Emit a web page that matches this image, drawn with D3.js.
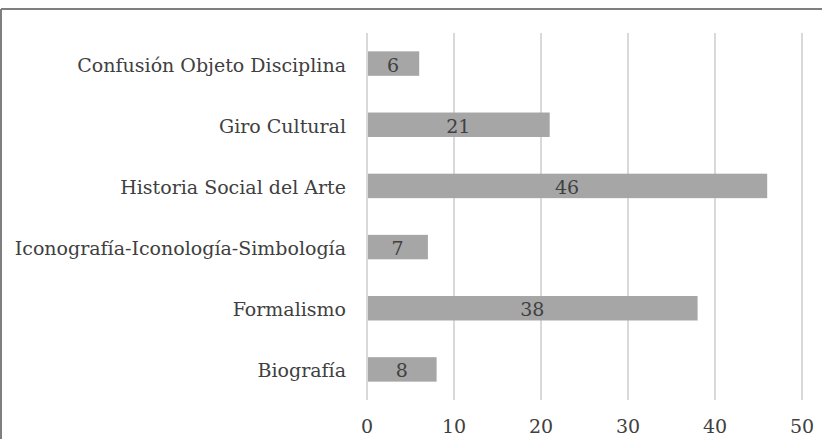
<!DOCTYPE html>
<html>
<head>
<meta charset="utf-8">
<script src="https://cdn.jsdelivr.net/npm/d3@7"></script>
<style>
  body { margin: 0; background: #fff; }
</style>
</head>
<body>
<svg id="chart" width="822" height="439"></svg>
<script>
// categories top to bottom
const categories = ['Confusión Objeto Disciplina', 'Giro Cultural', 'Historia Social del Arte',
  'Iconografía-Iconología-Simbología', 'Formalismo', 'Biografía'];
const values = [6, 21, 46, 7, 38, 8];
const tickValues = [0, 10, 20, 30, 40, 50];

const FONT = "'DejaVu Serif', 'Liberation Serif', serif";
const svg = d3.select('#chart');

const x = d3.scaleLinear().domain([0, 50]).range([367, 802]);
const y = d3.scaleBand().domain(categories).range([33, 400]).paddingInner(0.6).paddingOuter(0.3);

// outer frame (top and left only visible)
svg.append('line').attr('x1', 1).attr('x2', 822).attr('y1', 9).attr('y2', 9)
  .attr('stroke', '#7f7f7f').attr('stroke-width', 2);
svg.append('line').attr('x1', 1).attr('x2', 1).attr('y1', 9).attr('y2', 439)
  .attr('stroke', '#7f7f7f').attr('stroke-width', 2);

// gridlines
svg.append('g').selectAll('line').data(tickValues).join('line')
  .attr('x1', d => x(d)).attr('x2', d => x(d))
  .attr('y1', 33).attr('y2', 400)
  .attr('stroke', '#d9d9d9').attr('stroke-width', 2);

// x tick labels
svg.append('g').selectAll('text').data(tickValues).join('text')
  .attr('x', d => x(d)).attr('y', 433)
  .attr('text-anchor', 'middle')
  .attr('font-family', FONT).attr('font-size', 19).attr('fill', '#404040')
  .text(d => d);

// category labels
svg.append('g').selectAll('text').data(categories).join('text')
  .attr('x', 346).attr('y', d => y(d) + y.bandwidth() / 2)
  .attr('dy', '0.42em')
  .attr('text-anchor', 'end')
  .attr('font-family', FONT).attr('font-size', 19).attr('fill', '#404040')
  .text(d => d);

// bars
svg.append('g').selectAll('rect').data(values).join('rect')
  .attr('x', x(0) + 1)
  .attr('y', (d, i) => y(categories[i]))
  .attr('width', d => x(d) - x(0) - 1)
  .attr('height', y.bandwidth())
  .attr('fill', '#a6a6a6');

// value labels
svg.append('g').selectAll('text').data(values).join('text')
  .attr('x', d => (x(0) + x(d)) / 2)
  .attr('y', (d, i) => y(categories[i]) + y.bandwidth() / 2)
  .attr('dy', '0.42em')
  .attr('text-anchor', 'middle')
  .attr('font-family', FONT).attr('font-size', 19).attr('fill', '#404040')
  .text(d => d);
</script>
</body>
</html>
